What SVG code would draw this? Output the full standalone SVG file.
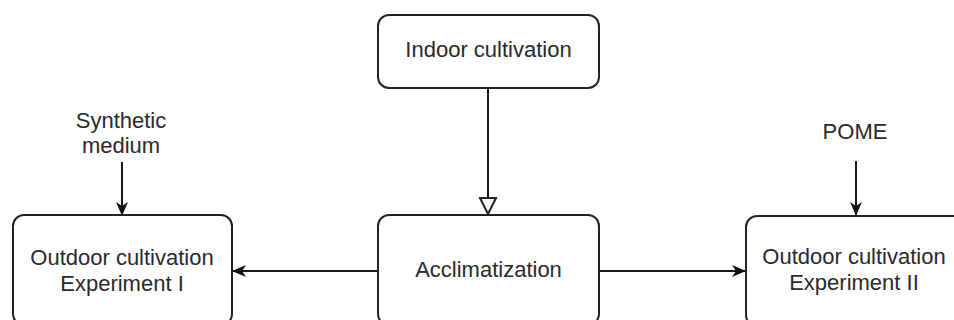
<svg xmlns="http://www.w3.org/2000/svg" width="954" height="320" viewBox="0 0 954 320">
<defs>
<style>
.box{fill:#fff;stroke:#222;stroke-width:2}
.lbl{font-family:"Liberation Sans",Arial,sans-serif;font-size:22px;fill:#2a2a2a;text-anchor:middle}
.ln{stroke:#1a1a1a;stroke-width:2;fill:none}
</style>
<marker id="filled" viewBox="0 0 14 14" refX="13" refY="7" markerWidth="14" markerHeight="14" markerUnits="userSpaceOnUse" orient="auto">
<path d="M0,1 L14,7 L0,13 L4,7 Z" fill="#111"/>
</marker>
<marker id="hollow" viewBox="0 0 20 20" refX="18" refY="10" markerWidth="20" markerHeight="20" markerUnits="userSpaceOnUse" orient="auto">
<path d="M2,2 L18,10 L2,18 Z" fill="#fff" stroke="#222" stroke-width="2"/>
</marker>
</defs>
<rect width="954" height="320" fill="#fff"/>
<g id="connectors">
<line class="ln" x1="488" y1="88" x2="488" y2="214" marker-end="url(#hollow)"/>
<line class="ln" x1="378" y1="271" x2="233" y2="271" marker-end="url(#filled)"/>
<line class="ln" x1="599" y1="271" x2="745" y2="271" marker-end="url(#filled)"/>
<line class="ln" x1="122" y1="162" x2="122" y2="215" marker-end="url(#filled)"/>
<line class="ln" x1="856" y1="161" x2="856" y2="215" marker-end="url(#filled)"/>
</g>
<g id="indoor">
<rect class="box" x="378" y="15" width="221" height="73" rx="11"/>
<text class="lbl" x="488.5" y="57">Indoor cultivation</text>
</g>
<g id="acclimatization">
<rect class="box" x="378" y="215" width="221" height="110" rx="11"/>
<text class="lbl" x="488.5" y="277">Acclimatization</text>
</g>
<g id="exp1">
<rect class="box" x="13" y="215" width="219" height="110" rx="11"/>
<text class="lbl" x="122" y="265">Outdoor cultivation</text>
<text class="lbl" x="122" y="291">Experiment I</text>
</g>
<g id="exp2">
<rect class="box" x="746" y="216" width="218" height="110" rx="11"/>
<text class="lbl" x="854" y="264">Outdoor cultivation</text>
<text class="lbl" x="854" y="290">Experiment II</text>
</g>
<g id="synthetic">
<text class="lbl" x="121" y="128">Synthetic</text>
<text class="lbl" x="121" y="153">medium</text>
</g>
<g id="pome">
<text class="lbl" x="855" y="139">POME</text>
</g>
</svg>
